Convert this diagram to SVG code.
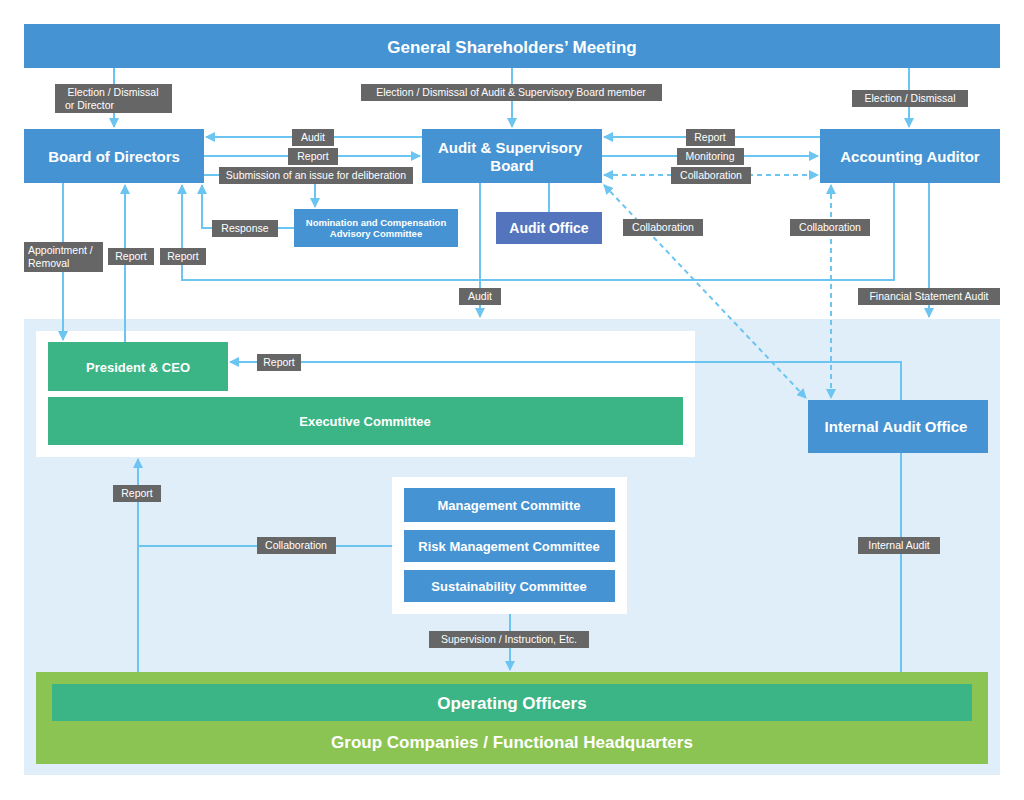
<svg xmlns="http://www.w3.org/2000/svg" width="1024" height="800" viewBox="0 0 1024 800">
<style>
text{font-family:"Liberation Sans",Arial,sans-serif}
.b{fill:#4593d3}.g{fill:#3bb585}
.t{fill:#fff;font-weight:bold;text-anchor:middle}
.l{fill:#666}
.lt{fill:#fff;font-size:10.5px;text-anchor:middle}
.c{stroke:#6cc4f0;stroke-width:2;fill:none}
.d{stroke-dasharray:5 4}
</style>
<defs><marker id="a" viewBox="0 0 10 10" refX="9" refY="5" markerWidth="5" markerHeight="5" orient="auto-start-reverse"><path d="M0 0L10 5L0 10z" fill="#6cc4f0"/></marker></defs>
<rect x="0" y="0" width="1024" height="800" fill="#fff"/>
<rect x="24" y="319" width="976" height="456" fill="#dfeef9"/>
<rect x="36" y="331" width="659" height="126" fill="#fff"/>
<rect x="392" y="477" width="235" height="137" fill="#fff"/>
<g id="connectors">
<path class="c" d="M114 68V127" marker-end="url(#a)"/>
<path class="c" d="M512 68V127" marker-end="url(#a)"/>
<path class="c" d="M909 68V127" marker-end="url(#a)"/>
<path class="c" d="M422 137H206" marker-end="url(#a)"/>
<path class="c" d="M204 156H420" marker-end="url(#a)"/>
<path class="c" d="M204 175H315V207" marker-end="url(#a)"/>
<path class="c" d="M294 228H202V185" marker-end="url(#a)"/>
<path class="c" d="M63 183V340" marker-end="url(#a)"/>
<path class="c" d="M125 342V185" marker-end="url(#a)"/>
<path class="c" d="M894 183V280H182V185" marker-end="url(#a)"/>
<path class="c" d="M480 183V317" marker-end="url(#a)"/>
<path class="c" d="M549 183V212"/>
<path class="c" d="M820 137H604" marker-end="url(#a)"/>
<path class="c" d="M602 156H818" marker-end="url(#a)"/>
<path class="c d" d="M604 175H818" marker-start="url(#a)" marker-end="url(#a)"/>
<path class="c d" d="M604 185L806 398" marker-start="url(#a)" marker-end="url(#a)"/>
<path class="c d" d="M831 185V398" marker-start="url(#a)" marker-end="url(#a)"/>
<path class="c" d="M929 183V317" marker-end="url(#a)"/>
<path class="c" d="M901 400V362H230" marker-end="url(#a)"/>
<path class="c" d="M901 453V672"/>
<path class="c" d="M138 672V459" marker-end="url(#a)"/>
<path class="c" d="M138 546H392"/>
<path class="c" d="M510 614V670" marker-end="url(#a)"/>
</g>
<g id="labels">
<rect class="l" x="55" y="84" width="117" height="29"/><text class="lt" x="113" y="96">Election / Dismissal</text><text class="lt" x="65" y="109" style="text-anchor:start">or Director</text>
<rect class="l" x="361" y="84" width="301" height="17"/><text class="lt" x="511" y="96">Election  / Dismissal of Audit &amp; Supervisory Board member</text>
<rect class="l" x="852" y="90" width="116" height="17"/><text class="lt" x="910" y="102">Election  / Dismissal</text>
<rect class="l" x="292" y="129" width="42" height="17"/><text class="lt" x="313" y="141">Audit</text>
<rect class="l" x="288" y="148" width="50" height="17"/><text class="lt" x="313" y="160">Report</text>
<rect class="l" x="219" y="167" width="194" height="17"/><text class="lt" x="316" y="179">Submission of an issue for deliberation</text>
<rect class="l" x="212" y="220" width="66" height="17"/><text class="lt" x="245" y="232">Response</text>
<rect class="l" x="24" y="242" width="79" height="30"/><text class="lt" x="28" y="254" style="text-anchor:start">Appointment /</text><text class="lt" x="28" y="267" style="text-anchor:start">Removal</text>
<rect class="l" x="108" y="248" width="46" height="17"/><text class="lt" x="131" y="260">Report</text>
<rect class="l" x="160" y="248" width="46" height="17"/><text class="lt" x="183" y="260">Report</text>
<rect class="l" x="459" y="288" width="42" height="17"/><text class="lt" x="480" y="300">Audit</text>
<rect class="l" x="686" y="129" width="49" height="17"/><text class="lt" x="710" y="141">Report</text>
<rect class="l" x="677" y="148" width="67" height="17"/><text class="lt" x="710" y="160">Monitoring</text>
<rect class="l" x="671" y="167" width="80" height="17"/><text class="lt" x="711" y="179">Collaboration</text>
<rect class="l" x="623" y="219" width="80" height="17"/><text class="lt" x="663" y="231">Collaboration</text>
<rect class="l" x="790" y="219" width="80" height="17"/><text class="lt" x="830" y="231">Collaboration</text>
<rect class="l" x="858" y="288" width="142" height="17"/><text class="lt" x="929" y="300">Financial Statement Audit</text>
<rect class="l" x="257" y="354" width="44" height="17"/><text class="lt" x="279" y="366">Report</text>
<rect class="l" x="858" y="537" width="82" height="17"/><text class="lt" x="899" y="549">Internal Audit</text>
<rect class="l" x="113" y="485" width="48" height="17"/><text class="lt" x="137" y="497">Report</text>
<rect class="l" x="257" y="537" width="79" height="17"/><text class="lt" x="296" y="549">Collaboration</text>
<rect class="l" x="429" y="631" width="160" height="17"/><text class="lt" x="509" y="643">Supervision / Instruction, Etc.</text>
</g>
<g id="gsm"><rect class="b" x="24" y="24" width="976" height="44"/><text class="t" x="512" y="53" font-size="17">General Shareholders’ Meeting</text></g>
<g id="bod"><rect class="b" x="24" y="129" width="180" height="54"/><text class="t" x="114" y="162" font-size="15">Board of Directors</text></g>
<g id="asb"><rect class="b" x="422" y="129" width="180" height="54"/><text class="t" x="510" y="153" font-size="15">Audit &amp; Supervisory</text><text class="t" x="512" y="171" font-size="15">Board</text></g>
<g id="aa"><rect class="b" x="820" y="129" width="180" height="54"/><text class="t" x="910" y="162" font-size="15">Accounting Auditor</text></g>
<g id="ncac"><rect class="b" x="294" y="209" width="164" height="38"/><text class="t" x="376" y="226" font-size="9.5">Nomination and Compensation</text><text class="t" x="376" y="237" font-size="9.5">Advisory Committee</text></g>
<g id="ao"><rect x="496" y="212" width="106" height="32" fill="#5475bd"/><text class="t" x="549" y="233" font-size="14">Audit Office</text></g>
<g id="ceo"><rect class="g" x="48" y="342" width="180" height="49"/><text class="t" x="138" y="372" font-size="13">President &amp; CEO</text></g>
<g id="ec"><rect class="g" x="48" y="397" width="635" height="48"/><text class="t" x="365" y="426" font-size="13">Executive Committee</text></g>
<g id="iao"><rect class="b" x="808" y="400" width="180" height="53"/><text class="t" x="896" y="432" font-size="15">Internal Audit Office</text></g>
<g id="mc"><rect class="b" x="404" y="488" width="211" height="34"/><text class="t" x="509" y="510" font-size="13">Management Committe</text></g>
<g id="rmc"><rect class="b" x="404" y="530" width="211" height="32"/><text class="t" x="509" y="551" font-size="13">Risk Management Committee</text></g>
<g id="sc"><rect class="b" x="404" y="570" width="211" height="32"/><text class="t" x="509" y="591" font-size="13">Sustainability Committee</text></g>
<g id="gc"><rect x="36" y="672" width="952" height="92" fill="#8bc453"/><text class="t" x="512" y="748" font-size="17">Group Companies  / Functional Headquarters</text></g>
<g id="oo"><rect class="g" x="52" y="684" width="920" height="37"/><text class="t" x="512" y="709" font-size="17">Operating Officers</text></g>
</svg>
